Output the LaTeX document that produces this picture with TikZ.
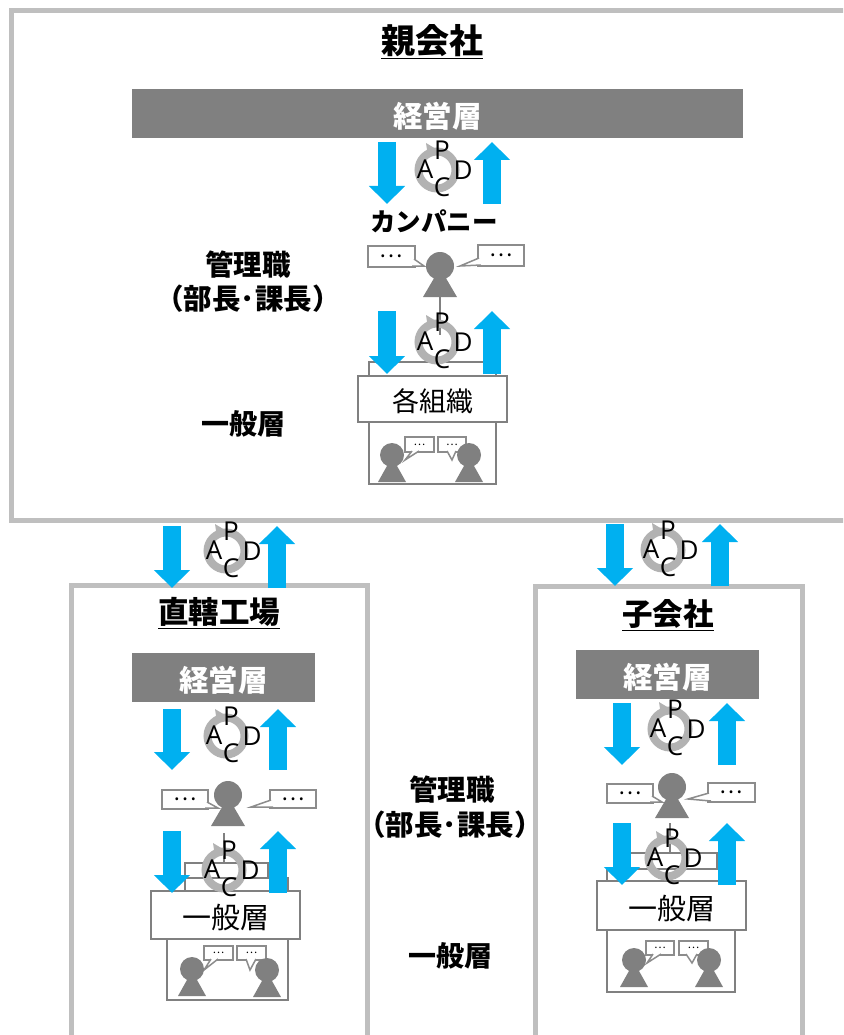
\documentclass[tikz,border=0pt]{standalone}
\usepackage{fontspec}
\setmainfont{Noto Sans CJK JP}
\newfontfamily\latinfont{Open Sans}
\usetikzlibrary{arrows.meta}

\newcommand{\fs}[1]{\fontsize{#1}{#1}\selectfont}
\newcommand{\low}[1]{\raisebox{-2.5pt}[\height][\depth]{#1}}

\tikzset{
	frame/.style = {draw=black!25, line width=5pt},
	bar/.style = {fill=black!50, text=white, font=\fs{29.5}\bfseries, inner sep=0pt},
	box/.style = {draw=black!50, line width=2pt, fill=white},
	boxlabel/.style = {font=\fs{29}, inner sep=0pt},
	stem/.style = {draw=black!50, line width=2pt},
	title/.style = {font=\fs{30.5}\bfseries, inner sep=0pt},
	heading/.style = {font=\fs{28.5}\bfseries, inner sep=0pt},
	flow/.style = {draw={rgb,255:red,0;green,176;blue,240}, line width=17.5pt,
		-{Triangle[width=35pt, length=18pt]}},
	say/.style = {draw=black!45, line width=1.5pt, fill=white},
	letter/.style = {font=\latinfont\fs{26}, inner sep=0pt},
	pics/pdca/.style = {code = {
		\draw[black!30, line width=8pt] (0,0) circle (18.5);
		\fill[black!30] (-11,-27) -- (-1,-21) -- (-9,-13) -- cycle;
		\node[letter] (p) at (5,-20) {P};
		\node[letter] (a) at (-12,-1) {A};
		\node[letter] (d) at (26,0) {D};
		\node[letter] (c) at (5,17) {C};
	}},
	pics/person/.style = {code = {
		\fill[black!50] (0,0) circle (14);
		\fill[black!50] (0,2) -- (17,31) -- (-17,31) -- cycle;
	}},
	pics/worker/.style = {code = {
		\fill[black!50] (0,0) circle (12);
		\fill[black!50] (0,2) -- (14,27) -- (-14,27) -- cycle;
	}},
}

% box with a tail: name, corners, tail, size of the dots
\newcommand{\bubble}[5]{
	\draw[say] #2 rectangle #3;
	\filldraw[say] #4;
	\path #2 -- node[inner sep=0pt, font=\fs{#5}] (#1) {…} #3;
}

% one pair of arrows with its cycle
\newcommand{\pdcapair}[6]{
	\coordinate (#1-dt) at (#3,#5);
	\coordinate (#1-db) at (#3,#6);
	\coordinate (#1-ut) at (#4,#5);
	\coordinate (#1-ub) at (#4,#6);
	\draw[flow] (#1-dt) -- (#1-db);
	\draw[flow] (#1-ub) -- (#1-ut);
	\pic (#1) at #2 {pdca};
}

\begin{document}
\begin{tikzpicture}[x=1pt, y=-1pt]
	\useasboundingbox (0,0) rectangle (843,1035);
	\clip (0,0) rectangle (843,1035);

	% frames
	\draw[frame] (11,11) rectangle (870,520.5);
	\draw[frame] (71,585) rectangle (367,1060);
	\draw[frame] (535,586) rectangle (802,1060);

	\node[font=\fs{34}\bfseries, inner sep=0pt] (parent) at (432,42) {\underline{親会社}};
	\node[title] (plant) at (219,613) {\underline{直轄工場}};
	\node[title] (child) at (668,615) {\underline{子会社}};

	% parent
	\node[bar, minimum width=611pt, minimum height=49pt] (topbar) at (437.5,113.5) {\low{経営層}};
	\node[font=\fs{25.5}\bfseries, inner sep=0pt] (company) at (434,221) {カンパニー};
	\node[heading] (mgr1) at (248,265) {管理職};
	\node[heading] (mgrsub1) at (248,299) {（部長･課長）};
	\node[heading, font=\fs{28}\bfseries] (staff1) at (243,424) {一般層};

	\bubble{sayl1}{(368,246)}{(415,267)}{(414,259) -- (424,266) -- (412,266)}{22}
	\bubble{sayr1}{(478,245)}{(524,266)}{(479,258) -- (460,266) -- (481,265)}{22}
	\pic (boss1) at (440,266) {person};
	\coordinate (stem1a) at (440,297);
	\coordinate (stem1b) at (440,335);
	\draw[stem] (stem1a) -- (stem1b);

	\draw[box] (369,362) rectangle (496,484);
	\node[box, minimum width=149pt, minimum height=46pt, boxlabel, font=\fs{27}] (org1) at (432.5,399) {\low{各組織}};
	\bubble{sayw1a}{(405,437)}{(434,452)}{(412,451) -- (405,460) -- (419,451)}{11}
	\bubble{sayw1b}{(438,437)}{(466,452)}{(447,451) -- (452,460) -- (456,451)}{11}
	\pic (w1a) at (392,455) {worker};
	\pic (w1b) at (469,455) {worker};

	\pdcapair{top1}{(437,170)}{387}{492}{142}{204}
	\pdcapair{low1}{(437,342)}{387}{492}{311}{374}

	% between the frames
	\pdcapair{mid1}{(226,551)}{172}{277}{526}{588}
	\pdcapair{mid2}{(663,550)}{615}{720}{524}{586}

	% plant
	\node[bar, minimum width=183pt, minimum height=49pt] (plantbar) at (223.5,677.5) {\low{経営層}};
	\bubble{sayl2}{(162,790)}{(208,809)}{(207,802) -- (218,808) -- (205,808)}{22}
	\bubble{sayr2}{(270,790)}{(316,808)}{(271,800) -- (251,807) -- (273,807)}{22}
	\pic (boss2) at (228,795) {person};
	\coordinate (stem2a) at (224,833);
	\coordinate (stem2b) at (224,865);
	\draw[stem] (stem2a) -- (stem2b);

	\draw[box] (185,863) rectangle (268,891);
	\draw[box] (185,878) rectangle (288,891);
	\draw[box] (167,939) rectangle (288,1000);
	\node[box, minimum width=149pt, minimum height=48pt, boxlabel] (org2) at (225.5,915) {\low{一般層}};
	\bubble{sayw2a}{(204,946)}{(233,960)}{(211,959) -- (204,970) -- (218,959)}{11}
	\bubble{sayw2b}{(237,946)}{(266,960)}{(246,959) -- (250,970) -- (256,959)}{11}
	\pic (w2a) at (192,969) {worker};
	\pic (w2b) at (267,970) {worker};

	\pdcapair{top2}{(226,736)}{172}{278}{709}{770}
	\pdcapair{low2}{(224,870)}{172}{278}{831}{893}

	% child
	\node[bar, minimum width=183pt, minimum height=49pt] (childbar) at (667.5,674.5) {\low{経営層}};
	\bubble{sayl3}{(607,784)}{(653,803)}{(652,796) -- (662,802) -- (650,802)}{22}
	\bubble{sayr3}{(708,783)}{(755,802)}{(709,793) -- (688,799) -- (711,801)}{22}
	\pic (boss3) at (672,787) {person};
	\coordinate (stem3a) at (670,823);
	\coordinate (stem3b) at (670,855);
	\draw[stem] (stem3a) -- (stem3b);

	\draw[box] (628,853) rectangle (717,881);
	\draw[box] (607,869) rectangle (735,881);
	\draw[box] (607,930) rectangle (735,992);
	\node[box, minimum width=149pt, minimum height=49pt, boxlabel] (org3) at (671.5,905.5) {\low{一般層}};
	\bubble{sayw3a}{(646,941)}{(674,955)}{(653,954) -- (647,963) -- (661,954)}{11}
	\bubble{sayw3b}{(679,941)}{(708,955)}{(686,954) -- (692,963) -- (697,954)}{11}
	\pic (w3a) at (634,960) {worker};
	\pic (w3b) at (709,960) {worker};

	\pdcapair{top3}{(670,729)}{622}{727}{703}{765}
	\pdcapair{low3}{(667,858)}{622}{727}{823}{885}

	% labels in the middle
	\node[heading] (mgr2) at (452,790) {管理職};
	\node[heading] (mgrsub2) at (450,825) {（部長･課長）};
	\node[heading, font=\fs{28}\bfseries] (staff2) at (450,956) {一般層};
\end{tikzpicture}
\end{document}
